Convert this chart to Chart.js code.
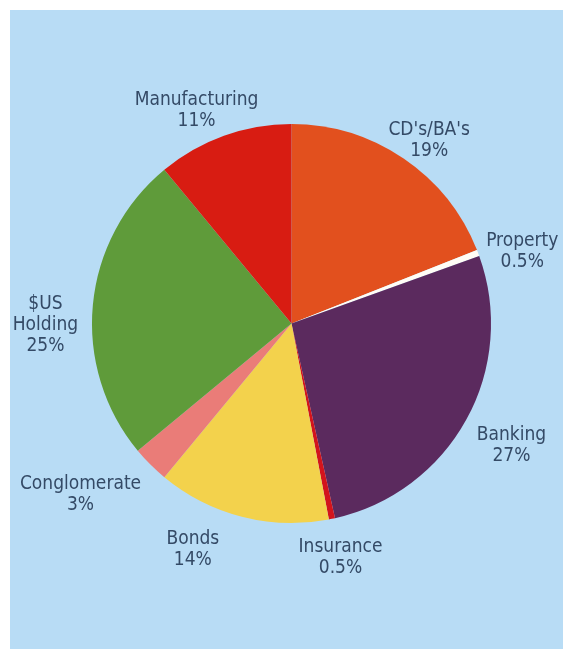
<!DOCTYPE html>
<html>
<head>
<meta charset="utf-8">
<script src="https://cdn.jsdelivr.net/npm/chart.js@4"></script>
<style>
  html, body { margin: 0; padding: 0; background: #fff; }
  #panel {
    position: absolute; left: 10px; top: 10px; right: 0; bottom: 0;
    background: #b8dcf5;
  }
  #wrap { position: absolute; left: 0; top: 0; width: 563px; height: 649px; }
</style>
</head>
<body>
<div id="panel"></div>
<div id="wrap"><canvas id="pie" width="563" height="649"></canvas></div>
<script>
// portfolio split, clockwise from 12 o'clock
const categories = ["CD's/BA's", 'Property', 'Banking', 'Insurance', 'Bonds', 'Conglomerate', '$US\nHolding', 'Manufacturing'];
const shares = [19, 0.5, 27, 0.5, 14, 3, 25, 11];
const shareLabels = ['19%', '0.5%', '27%', '0.5%', '14%', '3%', '25%', '11%'];
const sliceColors = ['#e2501e', '#fffdf6', '#5b2a5e', '#d3141c', '#f3d24c', '#ea7c78', '#5f9b3a', '#d81c12'];

// small hand nudges for label blocks [dx, dy]
const nudges = [[-3, 8], [1, 10], [6, 11], [-2, 8], [-40, 3], [-20, 8], [-5, 24], [-3, 4]];

const outerLabels = {
  id: 'outerLabels',
  afterDatasetsDraw(chart) {
    const ctx = chart.ctx;
    const meta = chart.getDatasetMeta(0);
    ctx.save();
    ctx.font = '19px "DejaVu Sans Condensed", "Liberation Sans", sans-serif';
    ctx.fillStyle = '#344a66';
    ctx.textAlign = 'center';
    ctx.textBaseline = 'middle';
    const lh = 21;
    meta.data.forEach((arc, i) => {
      const p = arc.getProps(['x', 'y', 'startAngle', 'endAngle', 'outerRadius']);
      const mid = (p.startAngle + p.endAngle) / 2;
      const lines = categories[i].split('\n').concat(shareLabels[i]);
      const w = Math.max(...lines.map(t => ctx.measureText(t).width));
      const h = lines.length * lh;
      const r = p.outerRadius + 10;
      const ax = p.x + Math.cos(mid) * r;
      const ay = p.y + Math.sin(mid) * r;
      const cx = ax + Math.cos(mid) * w / 2 + nudges[i][0];
      const cy = ay + Math.sin(mid) * h / 2 + nudges[i][1];
      lines.forEach((t, k) => {
        ctx.fillText(t, cx, cy - h / 2 + lh / 2 + k * lh);
      });
    });
    ctx.restore();
  }
};

new Chart(document.getElementById('pie'), {
  type: 'pie',
  data: {
    labels: categories,
    datasets: [{
      data: shares,
      backgroundColor: sliceColors,
      borderWidth: 0
    }]
  },
  options: {
    responsive: false,
    animation: false,
    layout: { padding: { left: 92, right: 72, top: 124, bottom: 126 } },
    plugins: {
      legend: { display: false },
      tooltip: { enabled: false }
    }
  },
  plugins: [outerLabels]
});
</script>
</body>
</html>
